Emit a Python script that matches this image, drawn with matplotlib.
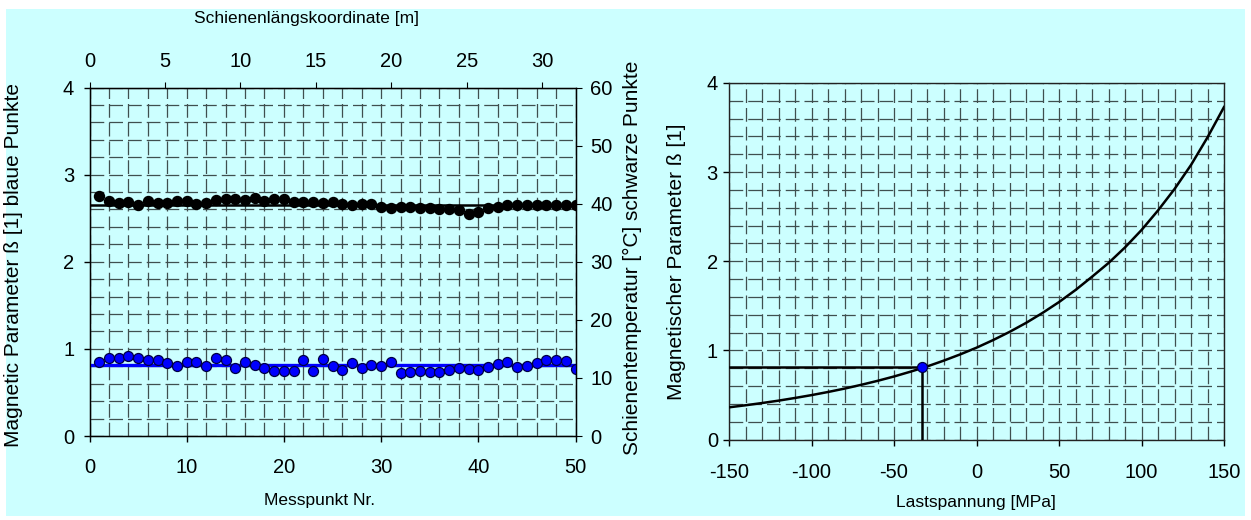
import matplotlib
matplotlib.use("Agg")
import matplotlib.pyplot as plt
from matplotlib.ticker import MultipleLocator
from matplotlib.patches import Rectangle

plt.rcParams['font.family'] = ['Liberation Sans', 'DejaVu Sans']
plt.rcParams['axes.unicode_minus'] = False

# ---------------- data ----------------
messpunkt = list(range(1, 51))
beta_blue = [0.845, 0.895, 0.900, 0.920, 0.893, 0.870, 0.870, 0.833, 0.807, 0.845,
             0.853, 0.798, 0.895, 0.870, 0.785, 0.847, 0.810, 0.778, 0.750, 0.750,
             0.743, 0.870, 0.750, 0.880, 0.805, 0.755, 0.835, 0.785, 0.810, 0.800,
             0.850, 0.728, 0.740, 0.747, 0.740, 0.736, 0.759, 0.782, 0.774, 0.759,
             0.790, 0.828, 0.854, 0.790, 0.800, 0.839, 0.874, 0.877, 0.866, 0.774]
temp_black = [41.3, 40.5, 40.2, 40.35, 39.8, 40.5, 40.1, 40.1, 40.5, 40.5,
              39.9, 40.2, 40.6, 40.8, 40.8, 40.6, 41.0, 40.5, 40.85, 40.85,
              40.35, 40.35, 40.3, 40.2, 40.3, 40.0, 39.8, 39.9, 39.9, 39.5,
              39.3, 39.4, 39.5, 39.2, 39.2, 39.0, 39.0, 38.9, 38.3, 38.6,
              39.2, 39.4, 39.7, 39.8, 39.8, 39.8, 39.7, 39.8, 39.8, 39.7]
beta_mean = 0.815
temp_mean = 39.8
rail_length_m = 32.2

stress = [-150, -140, -130, -120, -110, -100, -90, -80, -70, -60, -50, -40, -30, -20, -10,
          0, 10, 20, 30, 40, 50, 60, 70, 80, 90, 100, 110, 120, 130, 140, 150]
beta_curve = [0.361, 0.384, 0.409, 0.436, 0.466, 0.498, 0.533, 0.571, 0.613, 0.658,
              0.707, 0.761, 0.819, 0.884, 0.954, 1.030, 1.115, 1.207, 1.308, 1.420,
              1.542, 1.677, 1.826, 1.980, 2.155, 2.350, 2.570, 2.810, 3.080, 3.390, 3.730]
op_stress = -33
op_beta = 0.815

# ---------------- figure ----------------
W, H = 1251, 520
fig = plt.figure(figsize=(W / 100, H / 100), dpi=100)
fig.patch.set_facecolor('white')
bg = '#CCFFFF'
fig.patches.append(Rectangle((6 / W, 1 - 516 / H), (1245 - 6) / W, (516 - 9) / H,
                             transform=fig.transFigure, facecolor=bg, edgecolor='none', zorder=-10))

def fx(px):
    return px / W

def fy(py):
    return 1 - py / H

grid_kw = dict(color='#3f4f4f', linewidth=0.9, linestyle=(0, (11, 4)))
FS_T = 14.5
FS_V = 15
FS_H = 12.5

def style(ax):
    ax.set_facecolor(bg)
    ax.set_axisbelow(True)
    ax.grid(True, which='both', **grid_kw)
    ax.tick_params(which='major', direction='out', length=4, width=1, labelsize=FS_T)
    ax.tick_params(which='minor', length=0)
    for s in ax.spines.values():
        s.set_color('#222222')
        s.set_linewidth(1.0)

# ---- left chart ----
L, R, T, B = 89.5, 575.5, 87.5, 436
ax1 = fig.add_axes([fx(L), fy(B), fx(R) - fx(L), fy(T) - fy(B)])
style(ax1)
ax1.set_xlim(0, 50)
ax1.set_ylim(0, 4)
ax1.xaxis.set_major_locator(MultipleLocator(10))
ax1.xaxis.set_minor_locator(MultipleLocator(2))
ax1.yaxis.set_major_locator(MultipleLocator(1))
ax1.yaxis.set_minor_locator(MultipleLocator(0.2))
ax1.tick_params(axis='x', pad=12)
ax1.tick_params(axis='y', pad=7)
ax1.axhline(beta_mean, color='#0000FF', lw=2.4, zorder=3)
ax1.plot(messpunkt, beta_blue, 'o', color='#0000FF', mec='#000044', mew=0.9, ms=7.2, zorder=4)

ax2 = ax1.twinx()
ax2.set_ylim(0, 60)
ax2.yaxis.set_major_locator(MultipleLocator(10))
ax2.tick_params(direction='out', length=4, labelsize=FS_T, pad=6.5)
ax2.axhline(temp_mean, color='black', lw=1.8, zorder=3)
ax2.plot(messpunkt, temp_black, 'o', color='black', ms=7.2, zorder=4)
for s in ax2.spines.values():
    s.set_color('#222222')

ax3 = ax1.twiny()
ax3.set_xlim(0, rail_length_m)
ax3.xaxis.set_major_locator(MultipleLocator(5))
ax3.tick_params(direction='out', length=4, labelsize=FS_T, pad=8)

fig.text(fx(14), fy(265), 'Magnetic Parameter ß [1] blaue Punkte', rotation=90,
         ha='center', va='center', fontsize=FS_V)
fig.text(fx(632), fy(258), 'Schienentemperatur [°C] schwarze Punkte', rotation=90,
         ha='center', va='center', fontsize=FS_V)
fig.text(fx(320), fy(500), 'Messpunkt Nr.', ha='center', va='center', fontsize=FS_H)
fig.text(fx(306), fy(18), 'Schienenlängskoordinate [m]', ha='center', va='center', fontsize=FS_H)

# ---- right chart ----
L2, R2, T2, B2 = 729, 1224, 83, 439.5
ax4 = fig.add_axes([fx(L2), fy(B2), fx(R2) - fx(L2), fy(T2) - fy(B2)])
style(ax4)
ax4.set_xlim(-150, 150)
ax4.set_ylim(0, 4)
ax4.xaxis.set_major_locator(MultipleLocator(50))
ax4.xaxis.set_minor_locator(MultipleLocator(10))
ax4.yaxis.set_major_locator(MultipleLocator(1))
ax4.yaxis.set_minor_locator(MultipleLocator(0.2))
ax4.tick_params(axis='x', pad=13)
ax4.tick_params(axis='y', pad=4)
ax4.plot(stress, beta_curve, color='black', lw=1.8, zorder=3)
ax4.plot([-150, op_stress], [op_beta, op_beta], color='black', lw=1.8, zorder=3)
ax4.plot([op_stress, op_stress], [0, op_beta], color='black', lw=1.8, zorder=3)
ax4.plot([op_stress], [op_beta], 'o', color='#0000FF', mec='#000044', mew=0.9, ms=7.2, zorder=4)

fig.text(fx(676), fy(262), 'Magnetischer Parameter ß [1]', rotation=90,
         ha='center', va='center', fontsize=FS_V)
fig.text(fx(976), fy(503), 'Lastspannung [MPa]', ha='center', va='center', fontsize=FS_H)

fig.savefig('out.png', dpi=100, facecolor=fig.get_facecolor())
